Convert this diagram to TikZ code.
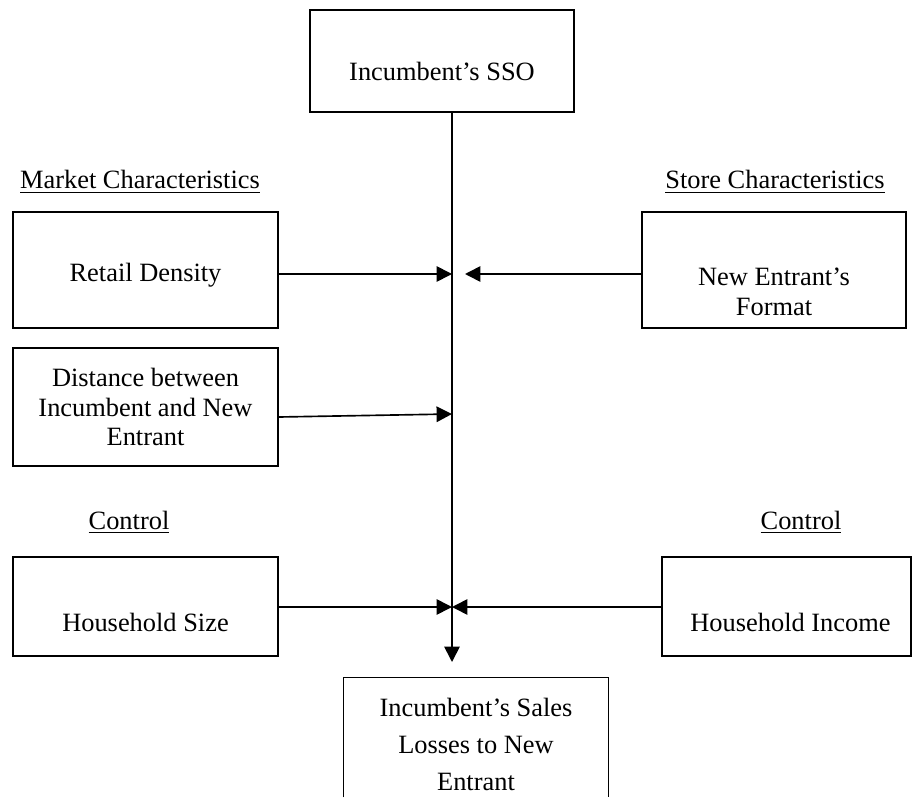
\documentclass[tikz,border=0pt]{standalone}
\usepackage{fontspec}
\setmainfont{Liberation Serif}
\usetikzlibrary{arrows.meta, positioning, fit, calc}

\begin{document}
\begin{tikzpicture}[
    x=0.4545pt, y=-0.4545pt,
    box/.style={rectangle, draw, line width=0.75pt, inner sep=0pt},
    txt/.style={align=center, inner sep=0pt, font=\fontsize{12}{13.6}\selectfont},
    heading/.style={anchor=base, inner sep=0pt, font=\fontsize{12}{13.6}\selectfont},
    arrow/.style={-{Triangle[length=7pt, width=7pt]}, line width=0.75pt}
]
\useasboundingbox (0,0) rectangle (915,797);

% Boxes
\node[box, fit={(310,10)(574,112)}] (sso) {};
\node[box, fit={(13,212)(278,328)}] (retail) {};
\node[box, fit={(13,348)(278,466)}] (dist) {};
\node[box, fit={(13,557)(278,656)}] (hhsize) {};
\node[box, fit={(642,212)(906,328)}] (format) {};
\node[box, fit={(662,557)(911,656)}] (hhincome) {};
\node[inner sep=0pt, fit={(344,678)(608,797)}] (losses) {};
\draw[line width=0.75pt] (losses.south west) |- (losses.north east) -- (losses.south east);

% Box texts
\node[txt] (ssotxt) at ($(sso)+(0,10)$) {Incumbent’s SSO};
\node[txt] (retailtxt) at ($(retail)+(0,5)$) {Retail Density};
\node[txt] (disttxt) at (dist) {Distance between\\Incumbent and New\\Entrant};
\node[txt] (hhsizetxt) at ($(hhsize)+(0,16)$) {Household Size};
\node[txt] (formattxt) at ($(format)+(0,22)$) {New Entrant’s\\Format};
\node[txt] (hhincometxt) at ($(hhincome)+(4,16)$) {Household Income};
\node[txt, font=\fontsize{12}{16.8}\selectfont] (lossestxt) at ($(losses)+(0,7)$) {Incumbent’s Sales\\Losses to New\\Entrant};

% Headings
\node[heading] (market) at (140,189) {\underline{Market Characteristics}};
\node[heading] (store) at (775,189) {\underline{Store Characteristics}};
\node[heading] (ctrlleft) at (129,529) {\underline{Control}};
\node[heading] (ctrlright) at (801,529) {\underline{Control}};

% Joins on the spine
\coordinate (spineend) at (452,662);
\coordinate (jretail) at (452,274);
\coordinate (jformat) at (465,274);
\coordinate (jdist) at (452,414);
\coordinate (jctrl) at (452,607);

% Arrows
\draw[arrow] (sso.south -| spineend) -- (spineend);
\draw[arrow] (retail.east |- jretail) -- (jretail);
\draw[arrow] (format.west |- jformat) -- (jformat);
\draw[arrow] ($(dist.east)+(0,10)$) -- (jdist);
\draw[arrow] (hhsize.east |- jctrl) -- (jctrl);
\draw[arrow] (hhincome.west |- jctrl) -- (jctrl);

\end{tikzpicture}
\end{document}
